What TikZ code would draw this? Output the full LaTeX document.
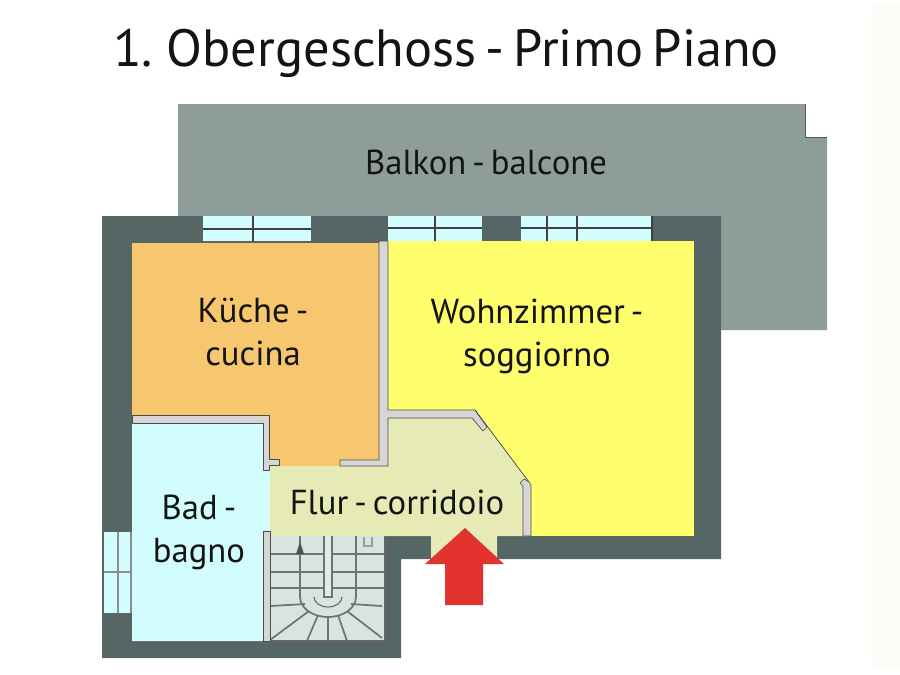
\documentclass[tikz,border=0pt]{standalone}
\usepackage{fontspec}
\setmainfont[WordSpace=0.65]{PT Sans}
\definecolor{wallc}{HTML}{566664}
\definecolor{balc}{HTML}{8E9D99}
\definecolor{kitch}{HTML}{F6C76F}
\definecolor{livingc}{HTML}{FFFF6E}
\definecolor{bathc}{HTML}{D2FDFE}
\definecolor{hallc}{HTML}{E6EAB4}
\definecolor{partc}{HTML}{D6D6D6}
\definecolor{stairc}{HTML}{D8E4E2}
\definecolor{stairl}{HTML}{6A7673}
\definecolor{arrowc}{HTML}{E2332E}
\definecolor{creamc}{HTML}{FDFDF7}
\tikzset{
  partition/.style={fill=partc,draw=black!70,line width=0.5pt,line join=round},
  windowbox/.style={fill=bathc,draw=none},
  windowline/.style={draw=black!75,line width=0.9pt},
  stairline/.style={draw=stairl,line width=1.3pt},
  titletext/.style={font=\fontsize{39.3}{42}\selectfont,anchor=base,text=black!92},
  roomtext/.style={font=\fontsize{26}{32.25}\selectfont,align=center,text=black!92},
}
\begin{document}
\begin{tikzpicture}[x=0.75pt,y=-0.75pt]
\useasboundingbox (0,0) rectangle (900,675);
\fill[white] (0,0) rectangle (900,675);
\fill[creamc] (872,5) rectangle (900,668);
% balcony
\fill[balc] (178,104) -- (805,104) -- (805,137) -- (827,137) -- (827,330) -- (700,330) -- (700,230) -- (178,230) -- cycle;
\draw[black!65,line width=0.6pt] (805,104) -- (805,137) -- (827,137);
% walls
\fill[wallc] (102,216) -- (721,216) -- (721,559) -- (497,559) -- (497,536) -- (431,536) -- (431,559) -- (401,559) -- (401,658) -- (102,658) -- cycle;
% rooms
\fill[livingc] (388,241) rectangle (694,536);
\fill[kitch] (132,243) rectangle (379,466);
\fill[bathc] (132,423) -- (263,423) -- (263,470) -- (270,470) -- (270,641) -- (132,641) -- cycle;
\fill[hallc] (270,466) -- (388,466) -- (388,410) -- (476,410) -- (529,482) -- (529,536) -- (497,536) -- (497,559) -- (431,559) -- (431,536) -- (270,536) -- cycle;
% stairs
\fill[stairc] (270,536) rectangle (385,641);
\foreach \yy in {554,572,588} \draw[stairline] (270,\yy) -- (385,\yy);
\draw[stairline] (300,536) -- (300,597) arc[start angle=180,end angle=0,x radius=28,y radius=20] -- (356,536);
\draw[stairline,line width=0.9pt] (314,597) arc[start angle=180,end angle=0,x radius=14,y radius=10];
\fill[stairc!70!white] (324,536) rectangle (332,597);
\draw[stairl,line width=0.8pt] (324,536) -- (324,597) -- (332,597) -- (332,536);
\foreach \xa/\ya/\xb/\yb in {305/604/271/606, 309/611/270/640, 318/615/307/641, 328/617/328/641, 338/615/347/641, 347/611/382/638, 351/604/382/606}
  \draw[stairline] (\xa,\ya) -- (\xb,\yb);
\fill[stairl!70!black] (300,542) -- (304,554) -- (296,554) -- cycle;
\draw[stairl!70,line width=0.8pt] (364,537) -- (364,546) -- (372,546) -- (372,537);
\draw[black!60,line width=0.8pt] (270,641) -- (385,641) -- (385,536);
% partitions
\path[partition] (132,415) -- (269,415) -- (269,459) -- (279,459) -- (279,465) -- (269,465) -- (269,470) -- (263,470) -- (263,423) -- (132,423) -- cycle;
\path[partition] (263,531) rectangle (270,641);
\path[partition] (379,241) -- (388,241) -- (388,410) -- (475,410) -- (487,427) -- (483,431) -- (472,418) -- (388,418) -- (388,466) -- (340,466) -- (340,460) -- (379,460) -- cycle;
\draw[black!75,line width=0.5pt] (475,410) -- (529,482);
\path[partition] (529,482) -- (531,485) -- (531,536) -- (523,536) -- (523,486) -- (520,483) -- (524,479) -- cycle;
% windows
\path[windowbox] (203,216) rectangle (311,241);
\draw[windowline] (203,229) -- (311,229) (253,216) -- (253,241);
\path[windowbox] (388,216) rectangle (482,241);
\draw[windowline] (388,228) -- (482,228) (435,216) -- (435,241);
\path[windowbox] (521,216) rectangle (652,241);
\draw[windowline] (521,228) -- (652,228) (547,216) -- (547,241) (577,216) -- (577,241) (652,216) -- (652,241);
\path[windowbox] (104,532) rectangle (131,613);
\draw[draw=black!45,line width=0.9pt] (104,572) -- (131,572) (118,532) -- (118,613) (131,532) -- (131,613);
% entrance arrow
\fill[arrowc] (465,528) -- (504,564) -- (483,564) -- (483,605) -- (445,605) -- (445,564) -- (425,564) -- cycle;
% labels
\node[titletext] (title) at (446,66) {1. Obergeschoss - Primo Piano};
\node[roomtext] (balkon) at (486,162) {Balkon - balcone};
\node[roomtext] (kueche) at (253,332) {Küche -\\cucina};
\node[roomtext] (wohn) at (537,336) {Wohnzimmer -\\soggiorno};
\node[roomtext] (bad) at (199,532) {Bad -\\bagno};
\node[roomtext] (flur) at (397,502) {Flur - corridoio};
\end{tikzpicture}
\end{document}
